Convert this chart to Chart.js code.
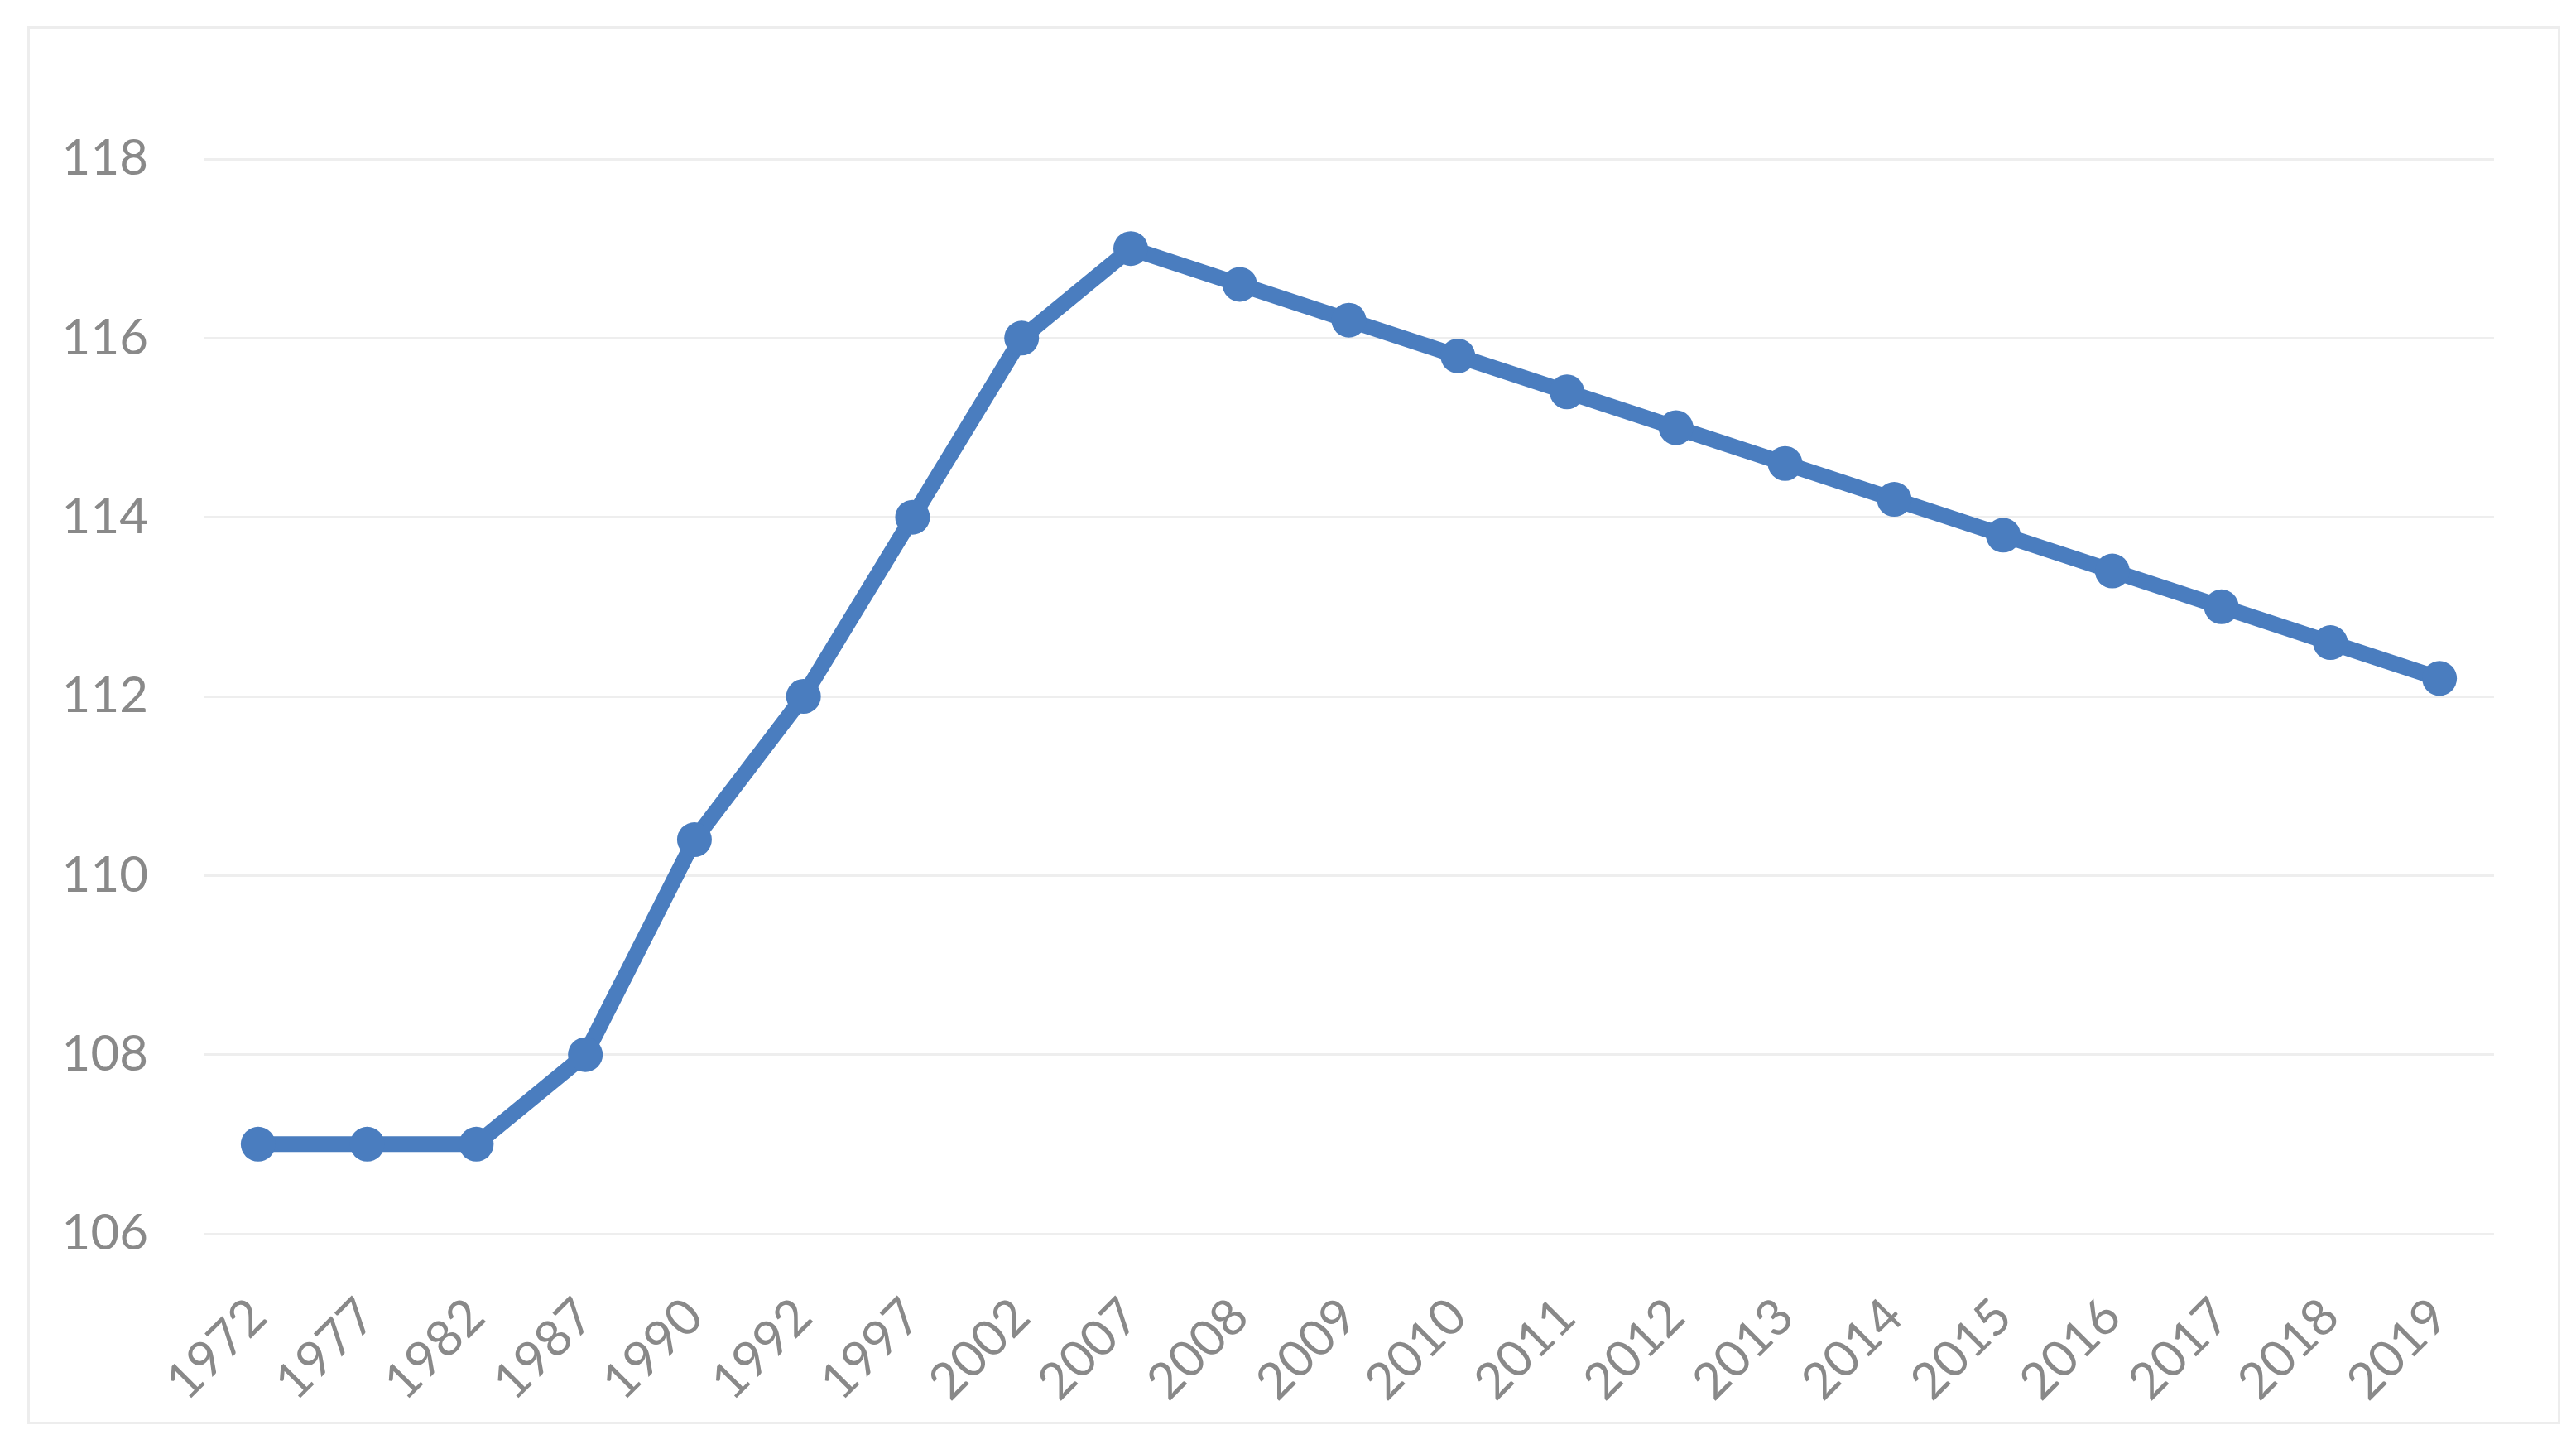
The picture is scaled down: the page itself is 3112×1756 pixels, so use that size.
<!DOCTYPE html>
<html>
<head>
<meta charset="utf-8">
<script src="https://cdn.jsdelivr.net/npm/chart.js@4.4.1/dist/chart.umd.min.js"></script>
<style>
  html, body { margin: 0; padding: 0; background: #ffffff; }
  #wrap { position: relative; width: 3112px; height: 1756px; }
  #frame { position: absolute; left: 33px; top: 32px; width: 3054px; height: 1682px; border: 3px solid #ededed; box-sizing: content-box; }
  canvas { position: absolute; left: 0; top: 0; }
</style>
</head>
<body>
<div id="wrap">
  <div id="frame"></div>
  <canvas id="c"></canvas>
</div>
<script>
const categories = ['1972','1977','1982','1987','1990','1992','1997','2002','2007','2008','2009','2010','2011','2012','2013','2014','2015','2016','2017','2018','2019'];
const seriesValues = [107, 107, 107, 108, 110.4, 112, 114, 116, 117, 116.6, 116.2, 115.8, 115.4, 115.0, 114.6, 114.2, 113.8, 113.4, 113.0, 112.6, 112.2];
const yMin = 106;
const yMax = 118;
const yStep = 2;

const ctx = document.getElementById('c');
new Chart(ctx, {
  type: 'line',
  data: {
    labels: categories,
    datasets: [{
      data: seriesValues,
      borderColor: '#4a7dbf',
      backgroundColor: '#4a7dbf',
      borderWidth: 19,
      pointRadius: 21,
      pointHoverRadius: 21,
      pointBorderWidth: 0,
      pointBackgroundColor: '#4a7dbf',
      tension: 0,
      fill: false
    }]
  },
  options: {
    responsive: true,
    maintainAspectRatio: false,
    devicePixelRatio: 1,
    animation: false,
    layout: { padding: { left: 0, top: 192, right: 99, bottom: 0 } },
    plugins: { legend: { display: false }, tooltip: { enabled: false } },
    scales: {
      x: {
        type: 'category',
        offset: true,
        grid: { display: false, drawTicks: false },
        border: { display: false },
        ticks: {
          color: '#898989',
          font: { family: 'Lato', size: 61 },
          minRotation: 45,
          maxRotation: 45,
          padding: 64,
          autoSkip: false
        },
        afterFit: (s) => { s.height = 266; }
      },
      y: {
        min: yMin,
        max: yMax,
        grid: { color: '#eeeeee', lineWidth: 3, drawTicks: false },
        border: { display: false },
        ticks: {
          stepSize: yStep,
          color: '#898989',
          font: { family: 'Lato', size: 60 },
          padding: 67
        },
        afterFit: (s) => { s.width = 246; }
      }
    }
  }
});
</script>
</body>
</html>
